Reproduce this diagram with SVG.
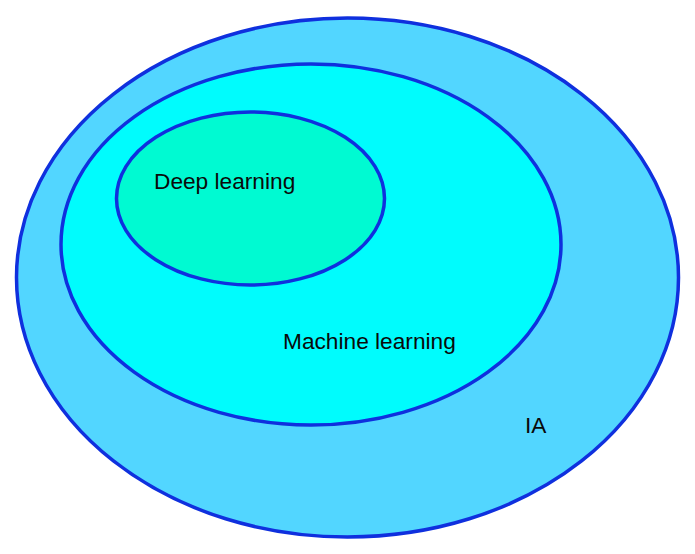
<svg xmlns="http://www.w3.org/2000/svg" width="695" height="554" viewBox="0 0 695 554">
<style>
.e{stroke:#0f30de;stroke-width:3.5}
.t{font-family:"Liberation Sans",Arial,sans-serif;font-size:22.7px;fill:#0a0a0a}
</style>
<rect width="695" height="554" fill="#ffffff"/>
<g id="ia">
<ellipse class="e" cx="347.5" cy="277.5" rx="331" ry="259.5" fill="#52d6ff"/>
<text class="t" x="525" y="433">IA</text>
</g>
<g id="machine-learning">
<ellipse class="e" cx="311" cy="244.5" rx="250" ry="180.5" fill="#00fcfd"/>
<text class="t" x="283" y="349">Machine learning</text>
</g>
<g id="deep-learning">
<ellipse class="e" cx="250.5" cy="198.5" rx="134" ry="86.5" fill="#00fad2"/>
<text class="t" x="154" y="189">Deep learning</text>
</g>
<g id="connectors"/>
</svg>
